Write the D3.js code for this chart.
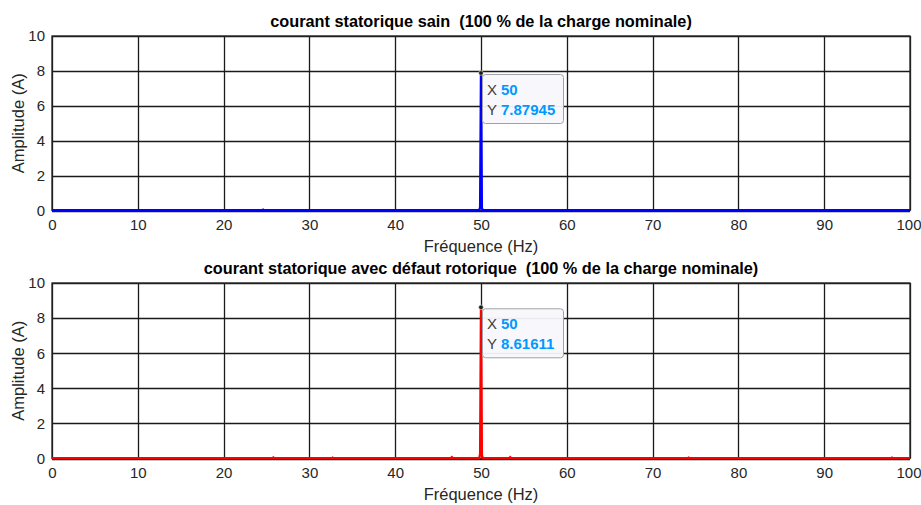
<!DOCTYPE html>
<html>
<head>
<meta charset="utf-8">
<script src="https://cdn.jsdelivr.net/npm/d3@7"></script>
<style>
  body { margin: 0; background: #fff; }
  svg { display: block; font-family: "Liberation Sans", Arial, Helvetica, sans-serif; }
  .title { white-space: pre; }
</style>
</head>
<body>
<svg id="chart" width="921" height="505"></svg>
<script>
// Axis ticks
const xTicks = [0, 10, 20, 30, 40, 50, 60, 70, 80, 90, 100];
const yTicks = [0, 2, 4, 6, 8, 10];

// Healthy motor stator current spectrum (frequency in Hz, amplitude in A)
const freqSain = [0, 24.5, 24.6, 24.7, 49.8, 49.9, 50, 50.1, 50.2, 100];
const ampSain  = [0.02, 0.02, 0.05, 0.02, 0.02, 0.2, 7.87945, 0.15, 0.02, 0.02];

// Stator current spectrum with rotor fault
const freqDefaut = [0, 25.7, 25.8, 25.9, 32.6, 32.7, 32.8, 46.5, 46.6, 46.7, 49.8, 49.9, 50, 50.1, 50.2,
                    53.3, 53.4, 53.5, 74.1, 74.2, 74.3, 97.8, 97.9, 98.0, 100];
const ampDefaut  = [0.02, 0.02, 0.06, 0.02, 0.02, 0.05, 0.02, 0.02, 0.07, 0.02, 0.02, 0.25, 8.61611, 0.2, 0.02,
                    0.02, 0.07, 0.02, 0.02, 0.05, 0.02, 0.02, 0.05, 0.02, 0.02];

const titles = [
  "courant statorique sain  (100 % de la charge nominale)",
  "courant statorique avec défaut rotorique  (100 % de la charge nominale)"
];

const panels = [
  { title: titles[0], freq: freqSain, amp: ampSain, color: "#0000ff", top: 36, bottom: 210.5, peakX: 50, peakY: 7.87945 },
  { title: titles[1], freq: freqDefaut, amp: ampDefaut, color: "#ff0000", top: 283, bottom: 458.5, peakX: 50, peakY: 8.61611 }
];

const svg = d3.select("#chart");
const left = 52, right = 910;
const axisColor = "#262626";

panels.forEach(p => {
  const x = d3.scaleLinear().domain([0, 100]).range([left, right]);
  const y = d3.scaleLinear().domain([0, 10]).range([p.bottom, p.top]);
  const g = svg.append("g");

  // grid
  g.append("g").selectAll("line").data(xTicks).join("line")
    .attr("x1", d => Math.round(x(d)) + 0.5).attr("x2", d => Math.round(x(d)) + 0.5)
    .attr("y1", p.top).attr("y2", p.bottom)
    .attr("stroke", "#1a1a1a").attr("stroke-width", 1.3);
  g.append("g").selectAll("line").data(yTicks).join("line")
    .attr("x1", left).attr("x2", right)
    .attr("y1", d => Math.round(y(d)) + 0.5).attr("y2", d => Math.round(y(d)) + 0.5)
    .attr("stroke", "#1a1a1a").attr("stroke-width", 1.3);

  // axes box
  g.append("rect").attr("x", left).attr("y", p.top)
    .attr("width", right - left).attr("height", p.bottom - p.top)
    .attr("fill", "none").attr("stroke", axisColor).attr("stroke-width", 1.3);

  // tick labels
  const xAxis = d3.axisBottom(x).tickValues(xTicks).tickSize(0).tickPadding(9);
  const xa = g.append("g").attr("transform", `translate(0,${p.bottom})`).call(xAxis);
  xa.select(".domain").remove();
  xa.selectAll("text").attr("font-size", 15).attr("fill", axisColor).attr("font-family", "Liberation Sans, Arial, sans-serif");
  // keep the last label inside the page edge
  xa.selectAll(".tick").filter(d => d === 100).select("text")
    .attr("text-anchor", "end").attr("x", 11);

  const yAxis = d3.axisLeft(y).tickValues(yTicks).tickSize(0).tickPadding(7);
  const ya = g.append("g").attr("transform", `translate(${left},0)`).call(yAxis);
  ya.select(".domain").remove();
  ya.selectAll("text").attr("font-size", 15).attr("fill", axisColor).attr("font-family", "Liberation Sans, Arial, sans-serif");

  // axis labels
  g.append("text").attr("x", (left + right) / 2).attr("y", p.bottom + 41)
    .attr("text-anchor", "middle").attr("font-size", 16.5).attr("fill", axisColor)
    .text("Fréquence (Hz)");
  g.append("text")
    .attr("transform", `translate(24,${(p.top + p.bottom) / 2}) rotate(-90)`)
    .attr("text-anchor", "middle").attr("font-size", 16.5).attr("fill", axisColor)
    .text("Amplitude (A)");

  // title
  g.append("text").attr("class", "title")
    .attr("x", (left + right) / 2).attr("y", p.top - 9)
    .attr("text-anchor", "middle").attr("font-size", 16.3).attr("font-weight", "bold")
    .attr("fill", "#000").text(p.title);

  // spectrum
  const pts = p.freq.map((f, i) => [f, p.amp[i]]);
  const line = d3.line().x(d => x(d[0])).y(d => y(d[1]));
  g.append("path").datum(pts).attr("d", line)
    .attr("fill", "none").attr("stroke", p.color).attr("stroke-width", 2.4)
    .attr("stroke-linejoin", "miter");

  // data tip
  const px = x(p.peakX), py = y(p.peakY);
  const tip = g.append("g");
  tip.append("rect").attr("x", px + 1.5).attr("y", py + 1.5)
    .attr("width", 81).attr("height", 49).attr("rx", 3)
    .attr("fill", "#f8f8fc").attr("fill-opacity", 0.95)
    .attr("stroke", "#a0a0a8").attr("stroke-width", 1);
  const rows = [["X", String(p.peakX)], ["Y", String(p.peakY)]];
  rows.forEach((r, i) => {
    const t = tip.append("text").attr("x", px + 6).attr("y", py + 22 + i * 20).attr("font-size", 15);
    t.append("tspan").attr("fill", "#404040").text(r[0]);
    t.append("tspan").attr("dx", 4).attr("fill", "#0099ff").attr("font-weight", "bold").text(r[1]);
  });
  tip.append("circle").attr("cx", px).attr("cy", py).attr("r", 2.3)
    .attr("fill", "#1a1a1a").attr("stroke", "#e8e8c0").attr("stroke-width", 0.6);
});
</script>
</body>
</html>
